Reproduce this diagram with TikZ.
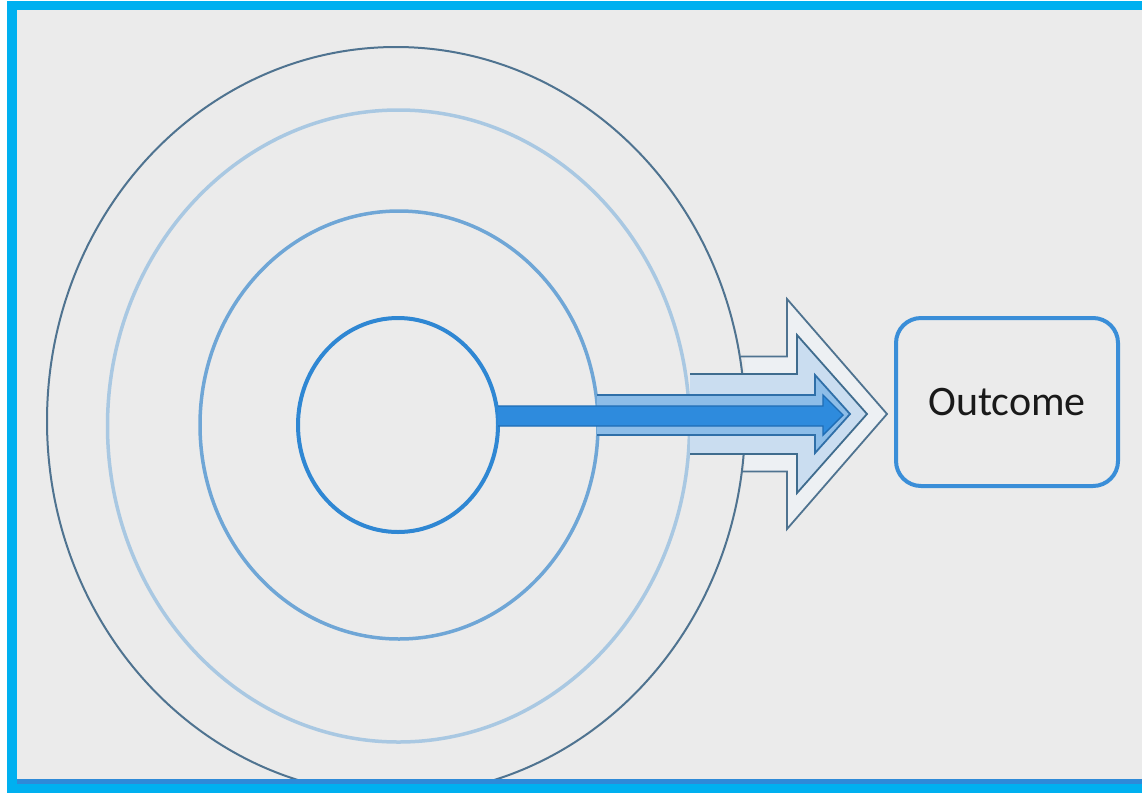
\documentclass[tikz,border=0pt]{standalone}
\usepackage{fontspec}
\setmainfont{Carlito}
\definecolor{frame}{HTML}{00B0F0}
\definecolor{bandblue}{HTML}{2E8AD8}
\definecolor{bg}{HTML}{EBEBEB}
\definecolor{ringA}{HTML}{4F7390}
\definecolor{ringB}{HTML}{A9C8E2}
\definecolor{ringC}{HTML}{6FA6D6}
\definecolor{ringD}{HTML}{2F87D3}
\definecolor{arrAfill}{HTML}{EDF0F3}
\definecolor{arrAline}{HTML}{4F7390}
\definecolor{arrBfill}{HTML}{CADDF0}
\definecolor{arrBline}{HTML}{3F6C8E}
\definecolor{arrCfill}{HTML}{8DBDE8}
\definecolor{arrCline}{HTML}{2F6FA8}
\definecolor{arrDfill}{HTML}{2E8BDD}
\definecolor{arrDline}{HTML}{1F6DB5}
\definecolor{boxline}{HTML}{3A8ED8}
\tikzset{
  ring/.style={line width=#1},
  arrowfill/.style={fill=#1},
  arrowline/.style={draw=#1, line width=1.8pt, line join=miter},
  outcomebox/.style={draw=boxline, line width=4pt, rounded corners=25pt,
    minimum width=222pt, minimum height=168pt, inner sep=0pt,
    text=black!90, font=\fontsize{42}{50}\selectfont}
}
\begin{document}
\begin{tikzpicture}[x=1pt,y=-1pt]
\useasboundingbox (0,0) rectangle (1142,793);
\fill[white] (0,0) rectangle (1142,793);
\fill[bg] (17,10) rectangle (1142,780);
% rings
\begin{scope}
\clip (17,10) rectangle (1142,780);
\draw[ringA, ring=2pt] (396,421) ellipse [x radius=349, y radius=374];
\draw[ringB, ring=3.5pt] (398.5,426) ellipse [x radius=291, y radius=316];
\draw[ringC, ring=3.5pt] (399,425) ellipse [x radius=199, y radius=214];
\draw[ringD, ring=4pt] (398,425) ellipse [x radius=100, y radius=107];
\end{scope}
% arrow A (outer)
\fill[arrowfill=arrAfill] (745,356.5) -- (787,356.5) -- (787,299) -- (887,414) -- (787,529) -- (787,471.5) -- (745,471.5) -- cycle;
\draw[arrowline=arrAline] (741,356.5) -- (787,356.5) -- (787,299) -- (887,414) -- (787,529) -- (787,471.5) -- (741,471.5);
% arrow B
\fill[arrowfill=arrBfill] (690,374) -- (797,374) -- (797,335) -- (867,414) -- (797,493) -- (797,454) -- (690,454) -- cycle;
\draw[arrowline=arrBline] (690,374) -- (797,374) -- (797,335) -- (867,414) -- (797,493) -- (797,454) -- (690,454);
% arrow C
\fill[arrowfill=arrCfill] (597,395) -- (815,395) -- (815,375) -- (850,414) -- (815,453) -- (815,435) -- (597,435) -- cycle;
\draw[arrowline=arrCline] (597,395) -- (815,395) -- (815,375) -- (850,414) -- (815,453) -- (815,435) -- (597,435);
% arrow D (innermost)
\fill[arrowfill=arrDfill] (498,406) -- (823,406) -- (823,395) -- (843,415) -- (823,435) -- (823,426) -- (498,426) -- cycle;
\draw[arrowline=arrDline, line width=1.4pt] (498,406) -- (823,406) -- (823,395) -- (843,415) -- (823,435) -- (823,426) -- (498,426);
% outcome box
\node[outcomebox] (outcome) at (1007,402) {Outcome};
% frame
\fill[frame] (7,1) rectangle (1142,10);
\fill[frame] (7,1) rectangle (17,793);
\fill[bandblue] (17,779) rectangle (1142,784);
\fill[frame] (7,784) rectangle (1142,793);
\end{tikzpicture}
\end{document}
